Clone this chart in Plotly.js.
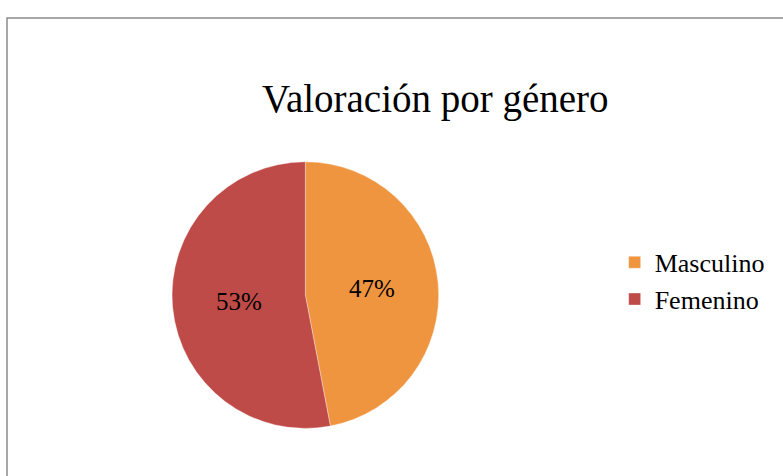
<!DOCTYPE html>
<html>
<head>
<meta charset="utf-8">
<script src="https://cdn.plot.ly/plotly-3.0.1.min.js"></script>
<style>html,body{margin:0;padding:0;background:#fff;}#chart{width:783px;height:476px;}</style>
</head>
<body>
<div id="chart"></div>
<script>
const categories = ["Masculino", "Femenino"];
const values = [47, 53];
const colors = ["#F0953F", "#BF4B48"];
const chartTitle = "Valoración por género";

const trace = {
  type: "pie",
  labels: categories,
  values: values,
  sort: false,
  direction: "clockwise",
  rotation: 0,
  textinfo: "percent",
  texttemplate: "%{percent:.0%}",
  textposition: "inside",
  insidetextorientation: "horizontal",
  textfont: {family: "Liberation Serif, serif", size: 25, color: "#000"},
  marker: {colors: colors, line: {color: "rgba(255,255,255,0.35)", width: 1}},
  domain: {x: [0.1, 0.68], y: [0.1, 0.66]},
  hoverinfo: "label+percent"
};

const layout = {
  width: 783, height: 476,
  margin: {l: 0, r: 0, t: 0, b: 0},
  paper_bgcolor: "#fff",
  title: {
    text: chartTitle,
    font: {family: "Liberation Serif, serif", size: 39, color: "#000"},
    x: 0.556, xanchor: "center", y: 0.765, yanchor: "bottom"
  },
  legend: {
    x: 0.785, xanchor: "left", y: 0.41, yanchor: "middle",
    font: {family: "Liberation Serif, serif", size: 26, color: "#000"},
    itemwidth: 30, tracegroupgap: 10, bgcolor: "rgba(0,0,0,0)"
  },
  showlegend: true,
  shapes: [{
    type: "rect", xref: "paper", yref: "paper",
    x0: 7/783, x1: 1.02, y0: -0.02, y1: 1 - 18/476,
    line: {color: "#8c8c8c", width: 1.5}, fillcolor: "rgba(0,0,0,0)"
  }]
};

Plotly.newPlot("chart", [trace], layout, {displayModeBar: false, staticPlot: true});
</script>
</body>
</html>
